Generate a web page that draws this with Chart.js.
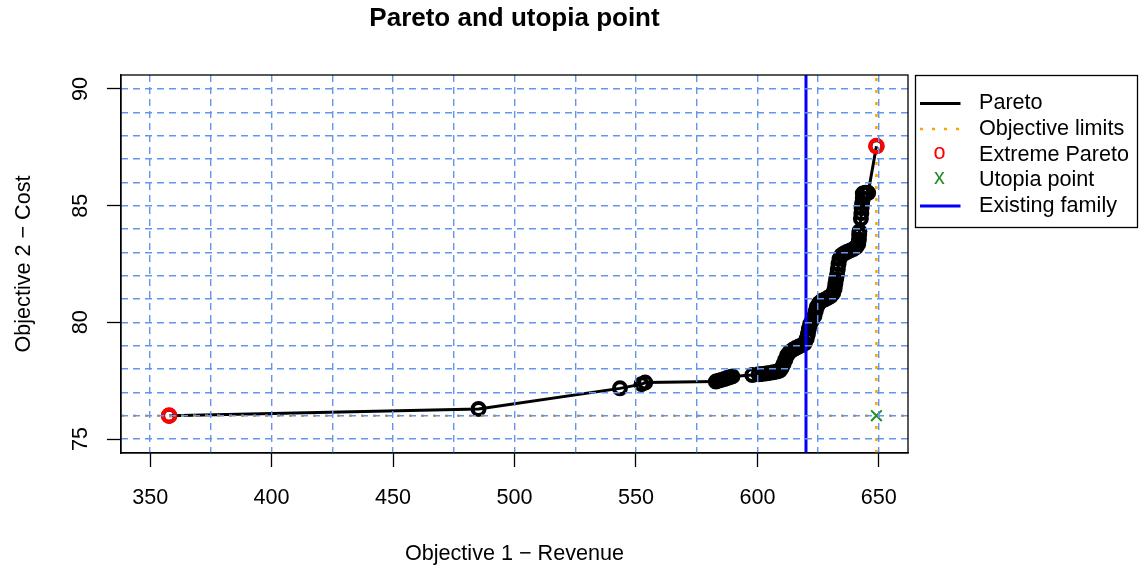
<!DOCTYPE html>
<html>
<head>
<meta charset="utf-8">
<title>Pareto and utopia point</title>
<script src="https://cdn.jsdelivr.net/npm/chart.js@4.4.1/dist/chart.umd.min.js"></script>
<style>
  html, body { margin: 0; padding: 0; background: #fff; }
  #wrap { width: 1139px; height: 567px; position: relative; }
</style>
</head>
<body>
<div id="wrap"><canvas id="paretoChart"></canvas></div>
<script>
// Pareto front: objective 1 (revenue) against objective 2 (cost)
const paretoRevenue = [357.8, 485.2, 543.4, 552.3, 553.8,
                       582.9, 584.0, 585.2, 586.4, 587.5, 588.6, 589.7, 597.9,
                       600.5, 602.0, 603.5, 605.0, 606.5, 608.0, 609.2,
                       610.0, 610.8, 611.5, 612.2, 613.2, 614.5, 615.8, 617.0, 618.3, 619.5,
                       620.3, 620.8, 621.2, 621.7, 622.6, 623.5, 624.0, 624.5, 625.4, 626.5,
                       627.8, 629.0, 630.2, 631.2, 631.8, 632.1, 632.4, 632.8, 633.1, 633.4,
                       633.8, 634.6, 635.8, 637.0, 638.3, 639.5, 640.7, 641.5, 641.8, 641.9, 642.0,
                       642.6, 642.8, 642.9, 643.1, 643.4, 643.4, 644.5, 645.6, 649.0];
const paretoCost = [76.00, 76.29, 77.17, 77.35, 77.42,
                    77.46, 77.50, 77.53, 77.57, 77.61, 77.65, 77.68, 77.74,
                    77.77, 77.79, 77.81, 77.83, 77.86, 77.89, 77.93,
                    78.05, 78.22, 78.40, 78.58, 78.72, 78.82, 78.90, 78.96, 79.02, 79.10,
                    79.30, 79.50, 79.72, 79.92, 80.10, 80.28, 80.48, 80.66, 80.82, 80.92,
                    80.98, 81.05, 81.12, 81.25, 81.45, 81.65, 81.85, 82.05, 82.28, 82.50,
                    82.72, 82.88, 82.96, 83.02, 83.08, 83.14, 83.22, 83.35, 83.55, 83.75, 83.90,
                    84.45, 84.68, 84.90, 85.10, 85.30, 85.52, 85.55, 85.55, 87.55];

// revenue of the existing product family
const existingFamily = 620;

// axis ranges, ticks and grid positions
const xLimits = [338, 662];
const yLimits = [74.4, 90.6];
const xTicks = [350, 400, 450, 500, 550, 600, 650];
const yTicks = [75, 80, 85, 90];
const xGrid = [350, 375, 400, 425, 450, 475, 500, 525, 550, 575, 600, 625, 650];
const yGrid = [75, 76, 77, 78, 79, 80, 81, 82, 83, 84, 85, 86, 87, 88, 89, 90];

const legendLabels = ['Pareto', 'Objective limits', 'Extreme Pareto', 'Utopia point', 'Existing family'];

const FONT = '"Liberation Sans", Arial, Helvetica, sans-serif';
Chart.defaults.font.family = FONT;
Chart.defaults.font.size = 21.6;
Chart.defaults.color = '#000';

const paretoPoints = paretoRevenue.map((x, i) => ({ x: x, y: paretoCost[i] }));
const extremePoints = [paretoPoints[0], paretoPoints[paretoPoints.length - 1]];
const utopia = { x: Math.max(...paretoRevenue), y: Math.min(...paretoCost) };

// Plot frame and the legend in the right margin, R style
const frameAndLegend = {
    id: 'frameAndLegend',
    afterDraw(chart) {
        const ctx = chart.ctx;
        const area = chart.chartArea;
        ctx.save();
        ctx.strokeStyle = '#000';
        ctx.lineWidth = 1.3;
        ctx.strokeRect(area.left, area.top, area.right - area.left, area.bottom - area.top);

        const left = area.right + 7.5;
        const top = area.top + 0.5;
        ctx.strokeRect(left, top, 222, 152);
        ctx.font = '21.6px ' + FONT;
        ctx.textBaseline = 'middle';
        legendLabels.forEach((label, i) => {
            const y = top + 28 + i * 25.6;
            const x0 = left + 4.5, x1 = left + 45, xm = left + 24;
            ctx.setLineDash([]);
            if (i === 0 || i === 4) {
                ctx.strokeStyle = i === 0 ? '#000' : '#0000ff';
                ctx.lineWidth = 3;
                ctx.beginPath(); ctx.moveTo(x0, y); ctx.lineTo(x1, y); ctx.stroke();
            } else if (i === 1) {
                ctx.strokeStyle = '#ffa500';
                ctx.lineWidth = 2.5;
                ctx.setLineDash([3, 9]);
                ctx.beginPath(); ctx.moveTo(x0, y); ctx.lineTo(x1, y); ctx.stroke();
            } else {
                ctx.fillStyle = i === 2 ? '#ff0000' : '#228b22';
                ctx.textAlign = 'center';
                ctx.fillText(i === 2 ? 'o' : 'x', xm, y - 2);
            }
            ctx.fillStyle = '#000';
            ctx.textAlign = 'left';
            ctx.fillText(label, left + 63.5, y);
        });
        ctx.restore();
    }
};

function initParetoChart() {
    const ctx = document.getElementById('paretoChart').getContext('2d');

    new Chart(ctx, {
        type: 'scatter',
        data: {
            datasets: [
                {
                    label: 'Existing family',
                    data: [{ x: existingFamily, y: yLimits[0] }, { x: existingFamily, y: yLimits[1] }],
                    showLine: true,
                    borderColor: '#0000ff',
                    borderWidth: 3,
                    pointRadius: 0
                },
                {
                    label: 'Utopia point',
                    data: [utopia],
                    pointStyle: 'crossRot',
                    pointRadius: 7.5,
                    pointBorderWidth: 2,
                    pointBorderColor: '#228b22',
                    pointBackgroundColor: '#228b22'
                },
                {
                    label: 'Extreme Pareto',
                    data: extremePoints,
                    pointRadius: 6.2,
                    pointBorderWidth: 4.2,
                    pointBorderColor: '#ff0000',
                    pointBackgroundColor: 'rgba(0,0,0,0)'
                },
                {
                    label: 'Objective limits',
                    data: [{ x: xLimits[0], y: utopia.y }, { x: xLimits[1], y: utopia.y }],
                    showLine: true,
                    borderColor: '#ffa500',
                    borderWidth: 2.5,
                    borderDash: [3, 9],
                    pointRadius: 0
                },
                {
                    label: 'Objective limits v',
                    data: [{ x: utopia.x, y: yLimits[0] }, { x: utopia.x, y: yLimits[1] }],
                    showLine: true,
                    borderColor: '#ffa500',
                    borderWidth: 2.5,
                    borderDash: [3, 9],
                    pointRadius: 0
                },
                {
                    label: 'Pareto',
                    data: paretoPoints,
                    showLine: true,
                    borderColor: '#000',
                    borderWidth: 3,
                    pointRadius: 6,
                    pointBorderWidth: 4,
                    pointBorderColor: '#000',
                    pointBackgroundColor: 'rgba(0,0,0,0)'
                }
            ]
        },
        options: {
            responsive: true,
            maintainAspectRatio: false,
            animation: false,
            events: [],
            layout: {
                padding: { left: 0, right: 231, top: 0, bottom: 0 }
            },
            plugins: {
                legend: { display: false },
                tooltip: { enabled: false },
                title: {
                    display: true,
                    text: 'Pareto and utopia point',
                    fullSize: false,
                    color: '#000',
                    font: { size: 26, weight: 'bold' },
                    padding: { top: 3.4, bottom: 40.4 }
                }
            },
            scales: {
                x: {
                    type: 'linear',
                    position: 'bottom',
                    min: xLimits[0],
                    max: xLimits[1],
                    afterBuildTicks: scale => { scale.ticks = xTicks.map(v => ({ value: v })); },
                    afterFit: scale => { scale.height = 114; },
                    grid: {
                        drawOnChartArea: false,
                        drawTicks: true,
                        tickLength: 14,
                        tickColor: '#000',
                        tickWidth: 1.3
                    },
                    border: { display: true, color: '#000', width: 1.3 },
                    ticks: { padding: 18, autoSkip: false, maxRotation: 0, color: '#000' },
                    title: {
                        display: true,
                        text: 'Objective 1 \u2212 Revenue',
                        color: '#000',
                        padding: { top: 0, bottom: 0 }
                    }
                },
                y: {
                    type: 'linear',
                    position: 'left',
                    min: yLimits[0],
                    max: yLimits[1],
                    afterBuildTicks: scale => { scale.ticks = yTicks.map(v => ({ value: v })); },
                    afterFit: scale => { scale.width = 121; },
                    grid: {
                        drawOnChartArea: false,
                        drawTicks: true,
                        tickLength: 14,
                        tickColor: '#000',
                        tickWidth: 1.3
                    },
                    border: { display: true, color: '#000', width: 1.3 },
                    ticks: {
                        padding: 14,
                        autoSkip: false,
                        minRotation: 90,
                        maxRotation: 90,
                        crossAlign: 'center',
                        color: '#000'
                    },
                    title: {
                        display: true,
                        text: 'Objective 2 \u2212 Cost',
                        color: '#000',
                        padding: { top: 11, bottom: 0 }
                    }
                },
                // dashed reference grid, drawn above the points
                xGridScale: {
                    type: 'linear',
                    axis: 'x',
                    position: 'top',
                    min: xLimits[0],
                    max: xLimits[1],
                    afterBuildTicks: scale => { scale.ticks = xGrid.map(v => ({ value: v })); },
                    afterFit: scale => { scale.height = 0; },
                    grid: { color: '#6495ed', lineWidth: 1.4, drawTicks: false, z: 1 },
                    border: { display: false, dash: [7, 5] },
                    ticks: { display: false }
                },
                yGridScale: {
                    type: 'linear',
                    axis: 'y',
                    position: 'right',
                    min: yLimits[0],
                    max: yLimits[1],
                    afterBuildTicks: scale => { scale.ticks = yGrid.map(v => ({ value: v })); },
                    afterFit: scale => { scale.width = 0; },
                    grid: { color: '#6495ed', lineWidth: 1.4, drawTicks: false, z: 1 },
                    border: { display: false, dash: [7, 5] },
                    ticks: { display: false }
                }
            }
        },
        plugins: [frameAndLegend]
    });
}

document.addEventListener('DOMContentLoaded', initParetoChart);
</script>
</body>
</html>
